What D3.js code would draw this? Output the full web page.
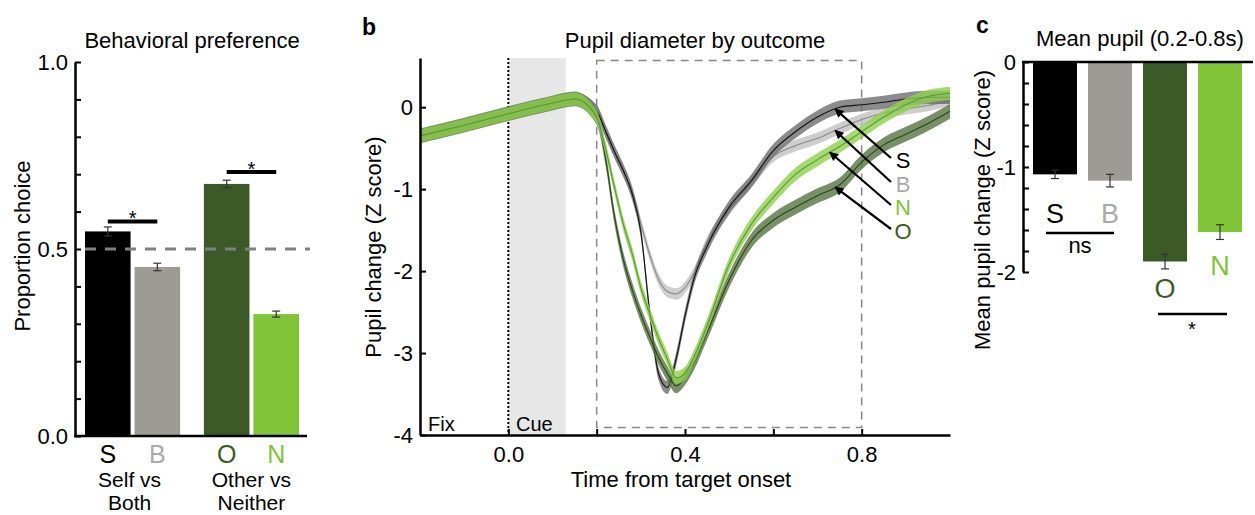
<!DOCTYPE html>
<html lang="en">
<head>
<meta charset="utf-8">
<title>Behavioral preference and pupil diameter</title>
<script src="https://cdn.jsdelivr.net/npm/d3@7"></script>
<style>
  body { margin: 0; background: #fff; }
  text { font-family: "Liberation Sans", Arial, sans-serif; }
</style>
</head>
<body>
<script>
// ---- data ----
var cats = ["S", "B", "O", "N"];
var groups = ["Self vs Both", "Other vs Neither"];

// panel a: proportion choice
var prefVals = [0.547, 0.452, 0.674, 0.326];
var prefErr = [0.012, 0.01, 0.01, 0.008];

// panel c: mean pupil 0.2-0.8s
var meanVals = [-1.07, -1.13, -1.90, -1.62];
var meanErr = [0.04, 0.06, 0.07, 0.07];

// panel b: pupil traces (time in s, Z score)
var time = [-0.2, -0.1, 0, 0.1, 0.15, 0.2, 0.22, 0.24, 0.26, 0.28, 0.3, 0.32, 0.34, 0.36,
            0.38, 0.4, 0.42, 0.45, 0.5, 0.55, 0.6, 0.65, 0.7, 0.75, 0.8, 0.85, 0.9, 0.95, 1.0];
var traceS = [-0.35, -0.22, -0.08, 0.05, 0.1, -0.05, -0.29, -0.54, -0.77, -1.05, -1.52, -2.5, -3.25, -3.42,
              -3.07, -2.55, -2.1, -1.7, -1.22, -0.9, -0.53, -0.3, -0.12, 0.0, 0.03, 0.06, 0.1, 0.12, 0.12];
var traceB = [-0.35, -0.22, -0.08, 0.05, 0.1, -0.05, -0.29, -0.54, -0.77, -1.02, -1.42, -1.8, -2.1, -2.25,
              -2.28, -2.2, -2.03, -1.65, -1.25, -0.92, -0.6, -0.47, -0.38, -0.26, -0.15, -0.07, -0.02, 0.02, 0.08];
var traceN = [-0.35, -0.22, -0.08, 0.05, 0.1, -0.12, -0.5, -0.97, -1.42, -1.78, -2.2, -2.52, -2.82, -3.07,
              -3.3, -3.25, -3.05, -2.66, -1.92, -1.43, -1.1, -0.82, -0.64, -0.48, -0.3, -0.12, 0.03, 0.13, 0.17];
var traceO = [-0.35, -0.22, -0.08, 0.05, 0.1, -0.12, -0.62, -1.33, -1.85, -2.22, -2.53, -2.8, -3.05, -3.25,
              -3.4, -3.3, -3.12, -2.75, -2.11, -1.63, -1.38, -1.22, -1.08, -0.95, -0.67, -0.46, -0.33, -0.2, -0.05];
var traceSem = [0.08, 0.07, 0.08, 0.09];  // S, B, N, O band half widths

var barColor = {S: "#000000", B: "#9d9c94", O: "#3b5a27", N: "#80c537"};
var letterColor = {S: "#000000", B: "#aaaaaa", O: "#3b5a27", N: "#80c537"};

var font = '"Liberation Sans", Arial, sans-serif';
var fs = 22;

var svg = d3.select("body").append("svg")
    .attr("width", 1255)
    .attr("height", 515);

function styleAxis(g) {
    g.attr("font-size", fs).attr("font-family", font);
    g.select(".domain").attr("stroke-width", 2.5).attr("stroke", "#000");
    g.selectAll(".tick line").attr("stroke-width", 2).attr("stroke", "#000");
    g.selectAll(".tick text").attr("fill", "#000");
}

// =================== panel a ===================
var ya = d3.scaleLinear().domain([0, 1]).range([436, 62]);
var xg = d3.scaleBand().domain(groups).range([85, 299]).paddingInner(0.2);
var xin = d3.scaleBand().domain([0, 1]).range([0, xg.bandwidth()]).paddingInner(0.08);
function xa(i) { return xg(groups[Math.floor(i / 2)]) + xin(i % 2); }

svg.append("text").attr("x", 192).attr("y", 48).attr("text-anchor", "middle")
    .attr("font-size", fs).text("Behavioral preference");

svg.selectAll("rect.pref").data(prefVals).enter().append("rect")
    .attr("class", "pref")
    .attr("x", function(d, i) { return xa(i); })
    .attr("width", xin.bandwidth())
    .attr("y", function(d) { return ya(d); })
    .attr("height", function(d) { return ya(0) - ya(d); })
    .attr("fill", function(d, i) { return barColor[cats[i]]; });

// error bars
prefVals.forEach(function(v, i) {
    var cx = xa(i) + xin.bandwidth() / 2;
    var g = svg.append("g").attr("stroke", "#333").attr("stroke-width", 1.2);
    g.append("line").attr("x1", cx).attr("x2", cx).attr("y1", ya(v - prefErr[i])).attr("y2", ya(v + prefErr[i]));
    g.append("line").attr("x1", cx - 4).attr("x2", cx + 4).attr("y1", ya(v + prefErr[i])).attr("y2", ya(v + prefErr[i]));
    g.append("line").attr("x1", cx - 4).attr("x2", cx + 4).attr("y1", ya(v - prefErr[i])).attr("y2", ya(v - prefErr[i]));
});

// chance line
svg.append("line").attr("x1", 85).attr("x2", 310).attr("y1", ya(0.5)).attr("y2", ya(0.5))
    .attr("stroke", "#808080").attr("stroke-width", 3).attr("stroke-dasharray", "11,9");

var ayAxis = svg.append("g").attr("transform", "translate(75,0)")
    .call(d3.axisLeft(ya).tickValues(d3.range(0, 11).map(function(i) { return i / 10; }))
        .tickSize(-6).tickSizeOuter(0).tickPadding(7)
        .tickFormat(function(d) { return (Math.abs(d * 2 - Math.round(d * 2)) < 1e-6) ? d.toFixed(1) : ""; }));
styleAxis(ayAxis);

svg.append("line").attr("x1", 74).attr("x2", 307).attr("y1", 436).attr("y2", 436)
    .attr("stroke", "#000").attr("stroke-width", 2.5);

// significance
function sigBar(i1, i2, y) {
    var x1 = xa(i1) + xin.bandwidth() / 2, x2 = xa(i2) + xin.bandwidth() / 2;
    svg.append("line").attr("x1", x1).attr("x2", x2).attr("y1", y).attr("y2", y)
        .attr("stroke", "#000").attr("stroke-width", 4);
    svg.append("text").attr("x", (x1 + x2) / 2).attr("y", y + 4).attr("text-anchor", "middle")
        .attr("font-size", 20).text("*");
}
sigBar(0, 1, ya(prefVals[0]) - 10);
sigBar(2, 3, ya(prefVals[2]) - 12);

cats.forEach(function(c, i) {
    svg.append("text").attr("x", xa(i) + xin.bandwidth() / 2).attr("y", 463)
        .attr("text-anchor", "middle").attr("font-size", 25).attr("fill", letterColor[c]).text(c);
});
[["Self vs", "Both"], ["Other vs", "Neither"]].forEach(function(lines, gi) {
    var cx = xg(groups[gi]) + xg.bandwidth() / 2 - (gi === 0 ? 3 : 0);
    svg.append("text").attr("x", cx).attr("y", 487).attr("text-anchor", "middle").attr("font-size", 21).text(lines[0]);
    svg.append("text").attr("x", cx).attr("y", 510).attr("text-anchor", "middle").attr("font-size", 21).text(lines[1]);
});

svg.append("text").attr("transform", "translate(30,246) rotate(-90)").attr("text-anchor", "middle")
    .attr("font-size", fs).text("Proportion choice");

// =================== panel b ===================
var xb = d3.scaleLinear().domain([-0.2, 1.0]).range([420, 950]);
var yb = d3.scaleLinear().domain([-4, 0.6]).range([435, 58]);

svg.append("text").attr("x", 362).attr("y", 35).attr("font-size", 23).attr("font-weight", "bold").text("b");
svg.append("text").attr("x", 695).attr("y", 48).attr("text-anchor", "middle")
    .attr("font-size", fs).text("Pupil diameter by outcome");

// cue period
svg.append("rect").attr("x", xb(0)).attr("width", xb(0.13) - xb(0))
    .attr("y", yb(0.6)).attr("height", yb(-4) - yb(0.6)).attr("fill", "#e7e7e7");
svg.append("line").attr("x1", xb(0)).attr("x2", xb(0)).attr("y1", yb(0.6)).attr("y2", yb(-4))
    .attr("stroke", "#000").attr("stroke-width", 2).attr("stroke-dasharray", "2,2");
// analysis window
svg.append("rect").attr("x", xb(0.2)).attr("width", xb(0.8) - xb(0.2))
    .attr("y", yb(0.57)).attr("height", yb(-3.91) - yb(0.57))
    .attr("fill", "none").attr("stroke", "#888").attr("stroke-width", 1.5).attr("stroke-dasharray", "8,6");

var traces = [
    {key: "B", vals: traceB, sem: traceSem[1], band: "#c2c2c2", line: "#8a8a8a"},
    {key: "S", vals: traceS, sem: traceSem[0], band: "#6e6e6e", line: "#111111"},
    {key: "O", vals: traceO, sem: traceSem[3], band: "#557441", line: "#2b4419"},
    {key: "N", vals: traceN, sem: traceSem[2], band: "#8fd050", line: "#5b9b2a"}
];

var area = d3.area().curve(d3.curveMonotoneX)
    .x(function(d) { return xb(d.t); })
    .y0(function(d) { return yb(d.v - d.e); })
    .y1(function(d) { return yb(d.v + d.e); });
var line = d3.line().curve(d3.curveMonotoneX)
    .x(function(d) { return xb(d.t); })
    .y(function(d) { return yb(d.v); });

traces.forEach(function(tr) {
    var pts = time.map(function(t, i) { return {t: t, v: tr.vals[i], e: tr.sem}; });
    svg.append("path").datum(pts).attr("d", area).attr("fill", tr.band).attr("opacity", 0.8);
    svg.append("path").datum(pts).attr("d", line).attr("fill", "none")
        .attr("stroke", tr.line).attr("stroke-width", 1.1);
});

var byAxis = svg.append("g").attr("transform", "translate(420,0)")
    .call(d3.axisLeft(yb).tickValues([0, -1, -2, -3, -4]).tickSize(-6).tickSizeOuter(0).tickPadding(7)
        .tickFormat(function(d) { return String(d); }));
styleAxis(byAxis);

var bxAxis = svg.append("g").attr("transform", "translate(0,435)")
    .call(d3.axisBottom(xb).tickValues([0, 0.2, 0.4, 0.6, 0.8]).tickSize(-6).tickSizeOuter(0).tickPadding(11)
        .tickFormat(function(d) { return (Math.round(d * 10) % 4 === 0) ? d.toFixed(1) : ""; }));
styleAxis(bxAxis);

svg.append("text").attr("x", 428).attr("y", 431).attr("font-size", 20).text("Fix");
svg.append("text").attr("x", 516).attr("y", 431).attr("font-size", 20).text("Cue");

svg.append("text").attr("x", 681).attr("y", 487).attr("text-anchor", "middle")
    .attr("font-size", fs).text("Time from target onset");
svg.append("text").attr("transform", "translate(381,247) rotate(-90)").attr("text-anchor", "middle")
    .attr("font-size", fs).text("Pupil change (Z score)");

// arrow labels
svg.append("defs").append("marker").attr("id", "head")
    .attr("viewBox", "0 0 10 10").attr("refX", 9).attr("refY", 5)
    .attr("markerWidth", 11).attr("markerHeight", 9).attr("markerUnits", "userSpaceOnUse")
    .attr("orient", "auto")
    .append("path").attr("d", "M0,0 L10,5 L0,10 z").attr("fill", "#000");

function valueAt(vals, t) {
    var i = d3.bisectLeft(time, t);
    var f = (t - time[i - 1]) / (time[i] - time[i - 1]);
    return vals[i - 1] + f * (vals[i] - vals[i - 1]);
}
var labelOrder = [
    {key: "S", vals: traceS, t: 0.74, y: 168},
    {key: "B", vals: traceB, t: 0.74, y: 192},
    {key: "N", vals: traceN, t: 0.728, y: 215},
    {key: "O", vals: traceO, t: 0.74, y: 239}
];
labelOrder.forEach(function(l) {
    svg.append("line").attr("x1", 891).attr("y1", l.y - 10)
        .attr("x2", xb(l.t)).attr("y2", yb(valueAt(l.vals, l.t)))
        .attr("stroke", "#000").attr("stroke-width", 2.2).attr("marker-end", "url(#head)");
    svg.append("text").attr("x", 903).attr("y", l.y).attr("text-anchor", "middle")
        .attr("font-size", 22).attr("fill", letterColor[l.key]).text(l.key);
});

// =================== panel c ===================
var yc = d3.scaleLinear().domain([-2, 0]).range([272, 62]);
var xc = d3.scaleBand().domain(cats).range([1027.5, 1247.5]).paddingInner(0.2).paddingOuter(0.1);

svg.append("text").attr("x", 976).attr("y", 33).attr("font-size", 23).attr("font-weight", "bold").text("c");
svg.append("text").attr("x", 1140).attr("y", 46).attr("text-anchor", "middle")
    .attr("font-size", fs).text("Mean pupil (0.2-0.8s)");

svg.selectAll("rect.mean").data(meanVals).enter().append("rect")
    .attr("class", "mean")
    .attr("x", function(d, i) { return xc(cats[i]); })
    .attr("width", xc.bandwidth())
    .attr("y", yc(0))
    .attr("height", function(d) { return yc(d) - yc(0); })
    .attr("fill", function(d, i) { return barColor[cats[i]]; });

meanVals.forEach(function(v, i) {
    var cx = xc(cats[i]) + xc.bandwidth() / 2;
    var g = svg.append("g").attr("stroke", "#333").attr("stroke-width", 1.2);
    g.append("line").attr("x1", cx).attr("x2", cx).attr("y1", yc(v - meanErr[i])).attr("y2", yc(v + meanErr[i]));
    g.append("line").attr("x1", cx - 4).attr("x2", cx + 4).attr("y1", yc(v - meanErr[i])).attr("y2", yc(v - meanErr[i]));
    g.append("line").attr("x1", cx - 4).attr("x2", cx + 4).attr("y1", yc(v + meanErr[i])).attr("y2", yc(v + meanErr[i]));
});

var cyAxis = svg.append("g").attr("transform", "translate(1023,0)")
    .call(d3.axisLeft(yc).tickValues(d3.range(0, 11).map(function(i) { return -i / 5; }))
        .tickSize(-6).tickSizeOuter(0).tickPadding(7)
        .tickFormat(function(d) { return (Math.abs(d - Math.round(d)) < 1e-6) ? String(Math.round(d)) : ""; }));
styleAxis(cyAxis);
svg.append("line").attr("x1", 1022).attr("x2", 1253).attr("y1", yc(0)).attr("y2", yc(0))
    .attr("stroke", "#000").attr("stroke-width", 2.5);

// letters in panel c
var cLetterY = {S: 223, B: 223, O: 298, N: 275};
cats.forEach(function(c) {
    svg.append("text").attr("x", xc(c) + xc.bandwidth() / 2).attr("y", cLetterY[c])
        .attr("text-anchor", "middle").attr("font-size", 27).attr("fill", letterColor[c]).text(c);
});

svg.append("line").attr("x1", 1046).attr("x2", 1114).attr("y1", 233).attr("y2", 233)
    .attr("stroke", "#000").attr("stroke-width", 2.5);
svg.append("text").attr("x", 1080).attr("y", 253).attr("text-anchor", "middle").attr("font-size", fs).text("ns");
svg.append("line").attr("x1", 1158).attr("x2", 1227).attr("y1", 314).attr("y2", 314)
    .attr("stroke", "#000").attr("stroke-width", 2.5);
svg.append("text").attr("x", 1192).attr("y", 336).attr("text-anchor", "middle").attr("font-size", 20).text("*");

svg.append("text").attr("transform", "translate(990,210) rotate(-90)").attr("text-anchor", "middle")
    .attr("font-size", fs).text("Mean pupil change (Z score)");
</script>
</body>
</html>
